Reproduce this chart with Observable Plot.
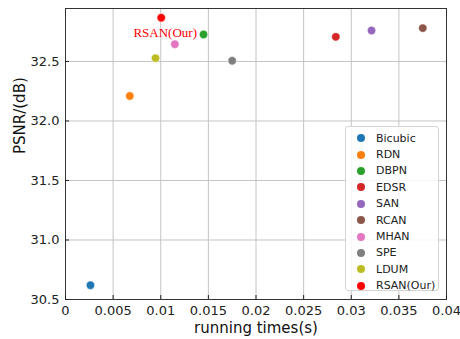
<!DOCTYPE html>
<html>
<head>
<meta charset="utf-8">
<script src="https://cdn.jsdelivr.net/npm/d3@7"></script>
<script src="https://cdn.jsdelivr.net/npm/@observablehq/plot@0.6"></script>
<style>
  body { margin: 0; background: #fff; }
  #wrap { position: relative; width: 460px; height: 339px; font-family: "DejaVu Sans", sans-serif; }
  #legend { position: absolute; left: 345px; top: 126px; width: 94px; height: 165px;
    border: 1px solid #d5d5d5; border-radius: 3px; background: rgba(255,255,255,0.85);
    box-sizing: border-box; padding-top: 3px; }
  .item { height: 16.4px; display: flex; align-items: center; font-size: 11px; color: #222; }
  .sw { width: 8px; height: 8px; border-radius: 50%; margin-left: 11px; margin-right: 11px; }
</style>
</head>
<body>
<div id="wrap"></div>
<script>
const methods = ["Bicubic","RDN","DBPN","EDSR","SAN","RCAN","MHAN","SPE","LDUM","RSAN(Our)"];
const times   = [0.00262, 0.00675, 0.01449, 0.02838, 0.03213, 0.03751, 0.01148, 0.0175, 0.00945, 0.01005];
const psnr    = [30.62, 32.21, 32.727, 32.707, 32.76, 32.78, 32.645, 32.506, 32.528, 32.867];
const colors  = ["#1f77b4","#ff7f0e","#2ca02c","#d62728","#9467bd","#8c564b","#e377c2","#7f7f7f","#bcbd22","#ff0000"];
const xTicks  = [0, 0.005, 0.01, 0.015, 0.02, 0.025, 0.03, 0.035, 0.04];
const yTicks  = [30.5, 31.0, 31.5, 32.0, 32.5];
const annotation = "RSAN(Our)";

const data = methods.map((m, i) => ({method: m, t: times[i], p: psnr[i]}));
const ours = data.filter(d => d.method === annotation);

const chart = Plot.plot({
  width: 460, height: 339,
  marginLeft: 65, marginRight: 14, marginTop: 8, marginBottom: 40,
  style: {fontFamily: "DejaVu Sans, sans-serif", fontSize: "13px", color: "#222", background: "#fff"},
  x: {domain: [0, 0.04], ticks: xTicks},
  y: {domain: [30.5, 32.945], ticks: yTicks},
  color: {domain: methods, range: colors},
  marks: [
    Plot.gridX(xTicks, {stroke: "#c4c4c4", strokeOpacity: 1, strokeWidth: 1}),
    Plot.gridY(yTicks, {stroke: "#c4c4c4", strokeOpacity: 1, strokeWidth: 1}),
    Plot.frame({stroke: "#333", strokeWidth: 1}),
    Plot.axisX(xTicks, {tickSize: -4, tickPadding: 10, tickFormat: d => String(+d.toFixed(3)), label: null, fontSize: 13}),
    Plot.axisY(yTicks, {tickSize: -4, tickPadding: 10, tickFormat: d => d.toFixed(1), label: null, fontSize: 13}),
    Plot.text(["running times(s)"], {frameAnchor: "bottom", dy: 33, fontSize: 15, fill: "#111"}),
    Plot.text(["PSNR/(dB)"], {frameAnchor: "left", dx: -45, rotate: -90, fontSize: 15, fill: "#111"}),
    Plot.dot(data, {x: "t", y: "p", fill: "method", r: 4.2, stroke: "white", strokeWidth: 0.5}),
    Plot.text(ours, {x: "t", y: "p", text: "method", dx: 4, dy: 15, fill: "#ff0000", fontFamily: "Liberation Serif, serif", fontSize: 13})
  ]
});

const wrap = document.getElementById("wrap");
wrap.appendChild(chart);
const leg = document.createElement("div");
leg.id = "legend";
methods.forEach((m, i) => {
  const it = document.createElement("div");
  it.className = "item";
  const sw = document.createElement("span");
  sw.className = "sw";
  sw.style.background = colors[i];
  const tx = document.createElement("span");
  tx.textContent = m;
  it.appendChild(sw); it.appendChild(tx);
  leg.appendChild(it);
});
wrap.appendChild(leg);
</script>
</body>
</html>
